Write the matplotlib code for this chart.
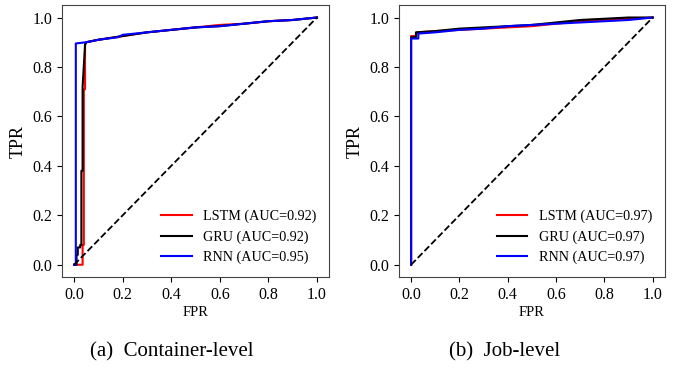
import numpy as np
import matplotlib as mpl
mpl.use('Agg')
import matplotlib.pyplot as plt

plt.rcParams['font.family'] = ['Liberation Serif', 'DejaVu Serif']

# container-level ROC curves
c_lstm_fpr = [0.0, 0.035, 0.035, 0.040, 0.040, 0.045, 0.045, 0.050, 0.10, 0.20, 0.30, 0.40, 0.50, 0.60, 0.70, 0.80, 0.90, 1.0]
c_lstm_tpr = [0.0, 0.0, 0.08, 0.08, 0.71, 0.71, 0.89, 0.90, 0.91, 0.925, 0.94, 0.95, 0.96, 0.97, 0.975, 0.985, 0.99, 1.0]
c_gru_fpr = [0.0, 0.010, 0.010, 0.015, 0.015, 0.025, 0.025, 0.030, 0.030, 0.035, 0.035, 0.045, 0.050, 0.10, 0.20, 0.30, 0.40, 0.50, 0.60, 0.70, 0.80, 0.90, 1.0]
c_gru_tpr = [0.0, 0.0, 0.04, 0.04, 0.07, 0.07, 0.08, 0.08, 0.38, 0.38, 0.72, 0.89, 0.90, 0.91, 0.925, 0.94, 0.95, 0.96, 0.965, 0.975, 0.985, 0.99, 1.0]
c_rnn_fpr = [0.0, 0.007, 0.007, 0.050, 0.10, 0.18, 0.20, 0.30, 0.40, 0.50, 0.60, 0.70, 0.80, 0.90, 1.0]
c_rnn_tpr = [0.0, 0.0, 0.895, 0.90, 0.91, 0.92, 0.93, 0.94, 0.95, 0.96, 0.965, 0.975, 0.985, 0.99, 1.0]

# job-level ROC curves
j_lstm_fpr = [0.0, 0.0, 0.020, 0.025, 0.10, 0.20, 0.30, 0.40, 0.50, 0.60, 0.70, 0.80, 0.90, 1.0]
j_lstm_tpr = [0.0, 0.925, 0.925, 0.94, 0.945, 0.95, 0.955, 0.96, 0.965, 0.975, 0.985, 0.99, 0.995, 1.0]
j_gru_fpr = [0.0, 0.0, 0.020, 0.020, 0.10, 0.20, 0.30, 0.40, 0.50, 0.60, 0.70, 0.80, 0.90, 1.0]
j_gru_tpr = [0.0, 0.92, 0.92, 0.94, 0.945, 0.955, 0.96, 0.965, 0.97, 0.98, 0.99, 0.995, 1.0, 1.0]
j_rnn_fpr = [0.0, 0.0, 0.030, 0.030, 0.10, 0.20, 0.30, 0.40, 0.50, 0.60, 0.70, 0.80, 0.90, 1.0]
j_rnn_tpr = [0.0, 0.915, 0.915, 0.935, 0.94, 0.95, 0.955, 0.965, 0.97, 0.975, 0.98, 0.985, 0.99, 1.0]

c_auc = [0.92, 0.92, 0.95]
j_auc = [0.97, 0.97, 0.97]
names = ['LSTM', 'GRU', 'RNN']
colors = ['red', 'black', 'blue']
captions = ['(a)  Container-level', '(b)  Job-level']
caption_x = [172 / 678, 505 / 678]

fig = plt.figure(figsize=(6.78, 3.68), dpi=100)
ax1 = fig.add_axes([0.0914, 0.247, 0.394, 0.739])
ax2 = fig.add_axes([0.5885, 0.247, 0.392, 0.739])

curves = [
  [(c_lstm_fpr, c_lstm_tpr), (c_gru_fpr, c_gru_tpr), (c_rnn_fpr, c_rnn_tpr)],
  [(j_lstm_fpr, j_lstm_tpr), (j_gru_fpr, j_gru_tpr), (j_rnn_fpr, j_rnn_tpr)],
]
aucs = [c_auc, j_auc]

for k, ax in enumerate([ax1, ax2]):
  for i in range(3):
    fpr, tpr = curves[k][i]
    ax.plot(fpr, tpr, color=colors[i], lw=1.5,
            label='%s (AUC=%.2f)' % (names[i], aucs[k][i]))
  ax.plot([0, 1], [0, 1], 'k--', lw=1.3)
  ax.set_xlim([-0.05, 1.05])
  ax.set_ylim([-0.05, 1.05])
  ax.set_xticks([0.0, 0.2, 0.4, 0.6, 0.8, 1.0])
  ax.set_yticks([0.0, 0.2, 0.4, 0.6, 0.8, 1.0])
  ax.tick_params(labelsize=11.5)
  ax.set_xlabel('FPR', fontsize=10.5, labelpad=2)
  ax.set_ylabel('TPR', fontsize=13)
  for s in ax.spines.values():
    s.set_color('#444444')
  ax.legend(loc='lower right', frameon=False, fontsize=10.2, handlelength=2.15)
  fig.text(caption_x[k], 0.044, captions[k], ha='center', va='center', fontsize=15)

plt.savefig('out.png', dpi=100)
plt.close()
